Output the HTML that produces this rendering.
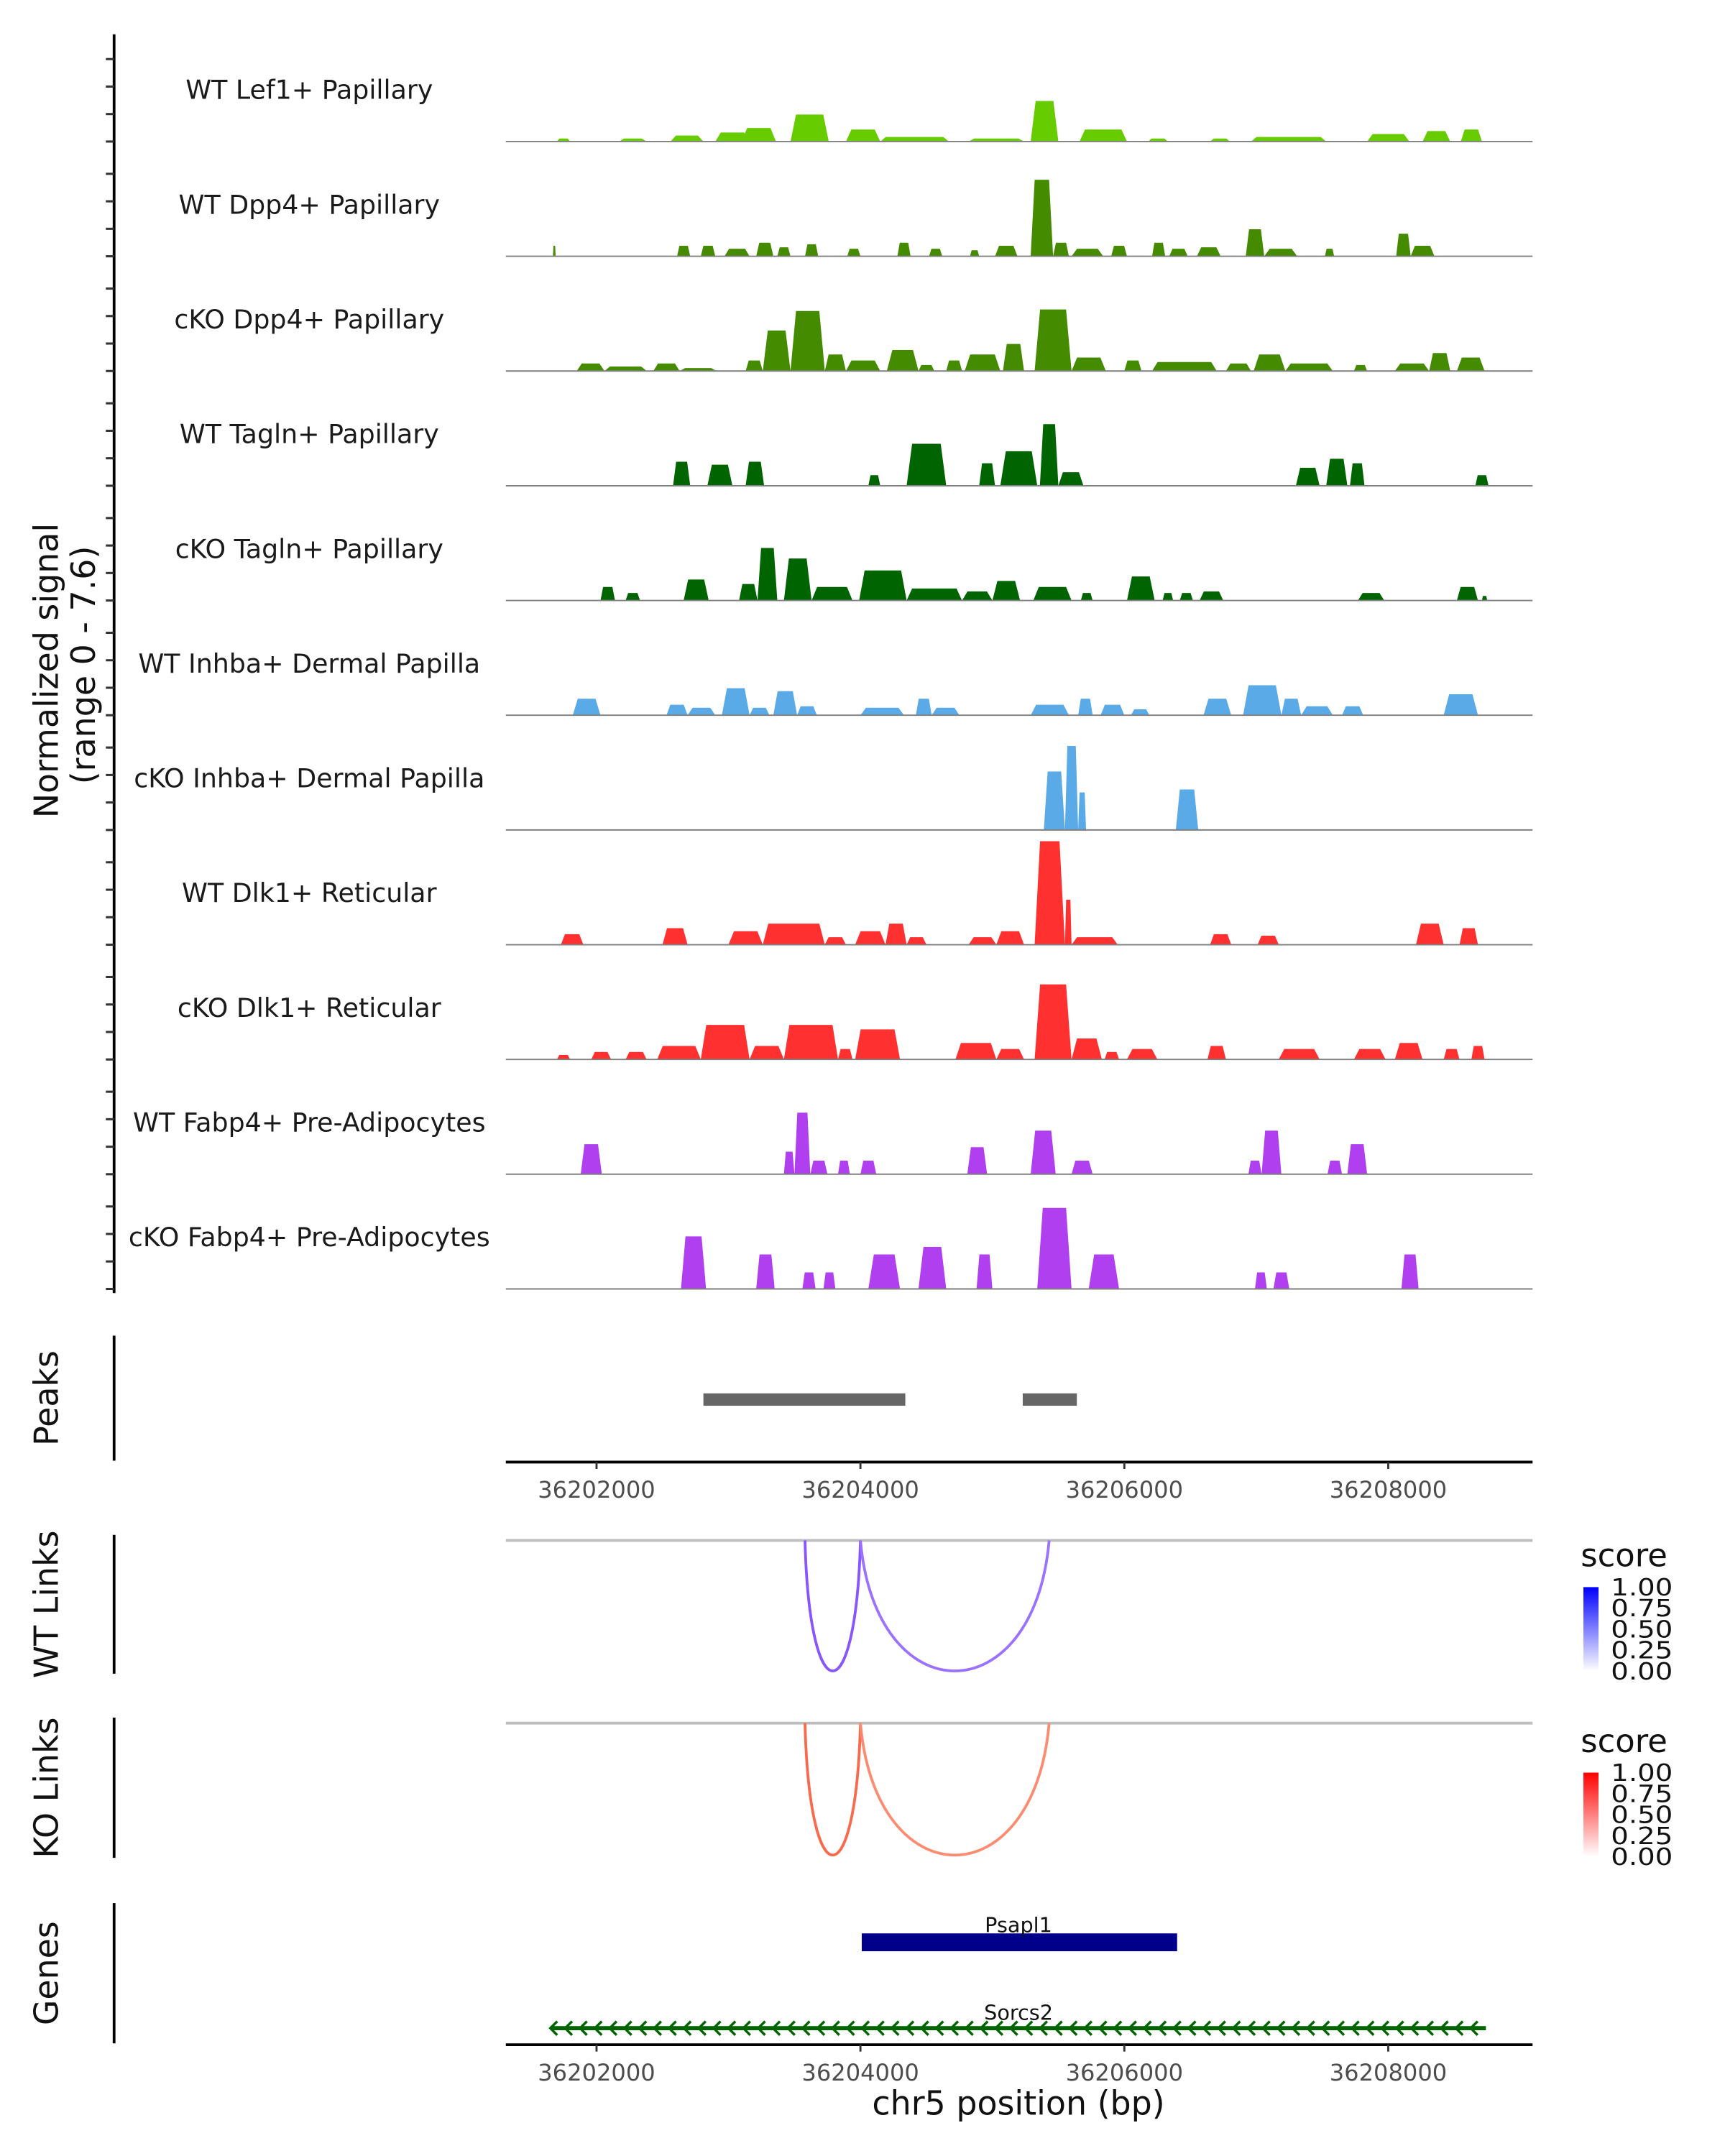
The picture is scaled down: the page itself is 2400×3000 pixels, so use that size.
<!DOCTYPE html>
<html><head><meta charset="utf-8"><style>
html,body{margin:0;padding:0;background:#fff;}
svg{display:block;font-family:"DejaVu Sans","Liberation Sans",sans-serif;}
</style></head><body>
<svg id="chart" width="2400" height="3000" viewBox="0 0 1255 1569" preserveAspectRatio="none" xmlns="http://www.w3.org/2000/svg">
<rect width="1255" height="1569" fill="#fff"/>
<g id="tracks"></g>
<g id="yaxis"></g>
<text transform="translate(42,488) rotate(-90)" text-anchor="middle" font-size="24" fill="#111">Normalized signal</text>
<text transform="translate(69,484) rotate(-90)" text-anchor="middle" font-size="24" fill="#111">(range 0 - 7.6)</text>
<g id="peaks"></g>
<g id="links"></g>
<g id="genes"></g>
</svg>
<script>
// positions in kb offset from chr5:36,200,000 ; heights in normalized signal
const trackNames = ["WT Lef1+ Papillary","WT Dpp4+ Papillary","cKO Dpp4+ Papillary","WT Tagln+ Papillary","cKO Tagln+ Papillary","WT Inhba+ Dermal Papilla","cKO Inhba+ Dermal Papilla","WT Dlk1+ Reticular","cKO Dlk1+ Reticular","WT Fabp4+ Pre-Adipocytes","cKO Fabp4+ Pre-Adipocytes"];
const trackColors = ["#66cc00","#458b00","#458b00","#006400","#006400","#5aaae8","#5aaae8","#ff3030","#ff3030","#b03ff0","#b03ff0"];
const lef1WT = [[1.70,1.80,0.2],[2.17,2.38,0.2],[2.56,2.81,0.4],[2.90,3.16,0.6],[3.10,3.36,0.9],[3.47,3.76,1.8],[3.89,4.15,0.8],[4.15,4.67,0.3],[4.82,5.24,0.2],[5.29,5.50,2.7],[5.66,6.02,0.8],[6.18,6.33,0.2],[6.65,6.80,0.2],[6.96,7.53,0.3],[7.84,8.16,0.5],[8.26,8.47,0.7],[8.55,8.71,0.8]];
const dpp4WT = [[1.67,1.69,0.7],[2.61,2.71,0.7],[2.79,2.90,0.7],[2.97,3.16,0.5],[3.21,3.34,0.9],[3.37,3.47,0.6],[3.58,3.68,0.8],[3.90,4.00,0.5],[4.28,4.38,0.9],[4.52,4.62,0.5],[4.83,4.90,0.4],[5.02,5.19,0.7],[5.29,5.46,5.1],[5.46,5.58,0.9],[5.60,5.84,0.5],[5.90,6.02,0.7],[6.21,6.31,0.9],[6.34,6.48,0.5],[6.55,6.73,0.6],[6.92,7.06,1.8],[7.06,7.31,0.5],[7.52,7.59,0.5],[8.06,8.17,1.5],[8.17,8.35,0.7]];
const dpp4KO = [[1.85,2.06,0.5],[2.06,2.38,0.3],[2.43,2.63,0.5],[2.63,2.91,0.2],[3.13,3.26,0.7],[3.26,3.47,2.7],[3.47,3.73,4.0],[3.73,3.89,1.1],[3.89,4.15,0.7],[4.2,4.44,1.4],[4.44,4.56,0.4],[4.65,4.77,0.7],[4.79,5.06,1.1],[5.08,5.24,1.8],[5.32,5.6,4.1],[5.6,5.86,0.9],[6.0,6.13,0.7],[6.21,6.7,0.6],[6.77,6.96,0.5],[6.98,7.22,1.1],[7.22,7.58,0.5],[7.74,7.84,0.4],[8.05,8.31,0.5],[8.31,8.47,1.2],[8.52,8.73,0.9]];
const taglnWT = [[2.58,2.71,1.6],[2.84,3.03,1.4],[3.13,3.27,1.6],[4.06,4.15,0.7],[4.35,4.65,2.8],[4.9,5.02,1.5],[5.06,5.34,2.3],[5.36,5.5,4.1],[5.5,5.69,0.9],[7.3,7.48,1.2],[7.53,7.69,1.8],[7.71,7.82,1.5],[8.66,8.76,0.7]];
const taglnKO = [[2.03,2.14,0.9],[2.22,2.33,0.5],[2.66,2.85,1.4],[3.08,3.22,1.1],[3.22,3.37,3.5],[3.42,3.63,2.8],[3.63,3.94,0.9],[3.99,4.35,2.0],[4.35,4.77,0.8],[4.77,5.0,0.6],[5.0,5.21,1.3],[5.31,5.6,0.9],[5.67,5.76,0.5],[6.02,6.23,1.6],[6.29,6.37,0.5],[6.42,6.52,0.5],[6.57,6.75,0.6],[7.77,7.97,0.5],[8.52,8.68,0.9],[8.71,8.75,0.3]];
const inhbaWT = [[1.82,2.03,1.1],[2.53,2.69,0.7],[2.69,2.9,0.5],[2.95,3.16,1.8],[3.16,3.31,0.5],[3.34,3.52,1.6],[3.52,3.67,0.6],[4.0,4.33,0.5],[4.42,4.54,1.1],[4.54,4.75,0.5],[5.29,5.58,0.7],[5.65,5.76,1.1],[5.82,6.0,0.7],[6.05,6.19,0.4],[6.6,6.81,1.1],[6.9,7.19,2.0],[7.19,7.34,1.1],[7.34,7.58,0.6],[7.65,7.81,0.6],[8.42,8.68,1.4]];
const inhbaKO = [[5.39,5.55,3.9],[5.55,5.65,5.6],[5.65,5.71,2.5],[6.39,6.56,2.7]];
const dlk1WT = [[1.73,1.9,0.7],[2.5,2.69,1.1],[3.0,3.26,0.9],[3.26,3.73,1.4],[3.73,3.89,0.5],[3.96,4.19,0.9],[4.19,4.35,1.4],[4.35,4.5,0.5],[4.82,5.03,0.5],[5.03,5.24,0.9],[5.32,5.55,6.9],[5.55,5.6,3.0],[5.6,5.95,0.5],[6.65,6.81,0.7],[7.01,7.17,0.6],[8.21,8.42,1.4],[8.54,8.68,1.1]];
const dlk1KO = [[1.7,1.8,0.3],[1.96,2.11,0.5],[2.22,2.38,0.5],[2.46,2.79,0.9],[2.79,3.16,2.3],[3.16,3.42,0.9],[3.42,3.83,2.3],[3.83,3.94,0.7],[3.96,4.3,2.0],[4.72,5.03,1.1],[5.03,5.24,0.7],[5.32,5.6,5.0],[5.6,5.83,1.4],[5.85,5.96,0.5],[6.02,6.25,0.7],[6.63,6.77,0.9],[7.17,7.48,0.7],[7.74,7.98,0.7],[8.05,8.26,1.1],[8.42,8.54,0.7],[8.63,8.73,0.9]];
const fabp4WT = [[1.88,2.04,2.0],[3.42,3.5,1.5],[3.5,3.62,4.1],[3.62,3.75,0.9],[3.83,3.92,0.9],[4.0,4.12,0.9],[4.81,4.96,1.8],[5.29,5.48,2.9],[5.6,5.76,0.9],[6.94,7.04,0.9],[7.04,7.19,2.9],[7.54,7.65,0.9],[7.69,7.84,2.0]];
const fabp4KO = [[2.64,2.83,3.5],[3.21,3.35,2.3],[3.56,3.66,1.1],[3.72,3.81,1.1],[4.06,4.3,2.3],[4.44,4.65,2.8],[4.88,5.0,2.3],[5.34,5.6,5.4],[5.73,5.96,2.3],[6.99,7.08,1.1],[7.13,7.25,1.1],[8.1,8.23,2.3]];
const trackData = [lef1WT,dpp4WT,dpp4KO,taglnWT,taglnKO,inhbaWT,inhbaKO,dlk1WT,dlk1KO,fabp4WT,fabp4KO];
const peakRegions = [[2.81,4.34],[5.23,5.64]];
const wtLinks = [[3.58,4.0,0.6],[4.0,5.43,0.45]];
const koLinks = [[3.58,4.0,0.6],[4.0,5.43,0.45]];
const xTicks = [2,4,6,8];
const xTickLabels = ["36202000","36204000","36206000","36208000"];
const legendTicks = ["1.00","0.75","0.50","0.25","0.00"];
const psapl1 = [4.01,6.40];
const sorcs2 = [1.65,8.74];

const NS="http://www.w3.org/2000/svg";
function mk(tag, attrs, parent){const e=document.createElementNS(NS,tag);for(const k in attrs)e.setAttribute(k,attrs[k]);parent.appendChild(e);return e;}
const X0=368, X1=1115;
function xs(kb){return 434+(kb-2)*96;}
const maxSig=7.6, trackH=83;
function ys(v,base){return base-v/maxSig*trackH;}

const tg=document.getElementById('tracks');
const ya=document.getElementById('yaxis');
mk('line',{x1:83,x2:83,y1:25,y2:941,stroke:'#000','stroke-width':2},ya);
trackData.forEach((blocks,i)=>{
  const base=103+i*83.5;
  const g=mk('g',{},tg);
  
  
  const lbl=mk('text',{x:225,y:base-31,'text-anchor':'middle','font-size':19,fill:'#1a1a1a'},g);
  lbl.textContent=trackNames[i];
  
  
  blocks.forEach(b=>{
    const a=xs(b[0]), c=xs(b[1]); const w=c-a; const r=Math.min(w*0.18,4);
    const y=ys(b[2],base);
    const p=mk('path',{d:`M${a},${base}L${a+r},${y}L${c-r},${y}L${c},${base}Z`,fill:trackColors[i]},g);
    
    
  });
  const bl=mk('line',{x1:X0,x2:X1,y1:base,y2:base,stroke:'#7f7f7f','stroke-width':1},g);
  
  
  for(let k=0;k<4;k++){const y=base-k*20;mk('line',{x1:77,x2:83,y1:y,y2:y,stroke:'#333','stroke-width':1.6},ya);}
});

function sideAxis(parent,y1,y2,label){
  mk('line',{x1:83,x2:83,y1:y1,y2:y2,stroke:'#000','stroke-width':2},parent);
  const t=mk('text',{transform:`translate(42,${(y1+y2)/2}) rotate(-90)`,'text-anchor':'middle','font-size':24,fill:'#111'},parent);
  t.textContent=label;
  
  
}
function xAxis(parent,y){
  mk('line',{x1:X0,x2:X1,y1:y,y2:y,stroke:'#000','stroke-width':2},parent);
  xTicks.forEach((v,i)=>{
    mk('line',{x1:xs(v),x2:xs(v),y1:y,y2:y+5,stroke:'#333','stroke-width':1.5},parent);
    const t=mk('text',{x:xs(v),y:y+26,'text-anchor':'middle','font-size':16.8,fill:'#4d4d4d'},parent);
    t.textContent=xTickLabels[i];
    
    
  });
}
const pg=document.getElementById('peaks');
sideAxis(pg,972,1063,'Peaks');
peakRegions.forEach(p=>{
  const r=mk('rect',{x:xs(p[0]),y:1014,width:xs(p[1])-xs(p[0]),height:9,fill:'#666'},pg);
  
  
});
xAxis(pg,1064);

const lg=document.getElementById('links');
const defs=mk('defs',{},lg);
function grad(id,c){const g=mk('linearGradient',{id:id,x1:0,y1:1,x2:0,y2:0},defs);mk('stop',{offset:0,'stop-color':'#fff'},g);mk('stop',{offset:1,'stop-color':c},g);}
grad('gb','#0000ff');grad('gr','#ff0000');
function linksTrack(top,bottom,label,links,cols,gradId,legY){
  sideAxis(lg,top-4,bottom+2,label);
  mk('line',{x1:X0,x2:X1,y1:top,y2:top,stroke:'#bebebe','stroke-width':2},lg);
  links.forEach((l,i)=>{
    const a=xs(l[0]),c=xs(l[1]);const d=(bottom-top)*4/3;
    const p=mk('path',{d:`M${a},${top}C${a+(c-a)*0.08},${top+d} ${c-(c-a)*0.08},${top+d} ${c},${top}`,fill:'none',stroke:cols[i],'stroke-width':2},lg);
    
    
  });
  const s=mk('text',{x:1150,y:legY,'font-size':23.5,fill:'#111'},lg);
  s.textContent='score';
  
  
  mk('rect',{x:1152,y:legY+15,width:11,height:61,fill:`url(#${gradId})`},lg);
  legendTicks.forEach((t,i)=>{
    const tt=mk('text',{x:1172,y:legY+21+i*15.3,'font-size':17,textLength:45,lengthAdjust:'spacingAndGlyphs',fill:'#111'},lg);
    tt.textContent=t;
    
    
  });
}
linksTrack(1121,1216,'WT Links',wtLinks,['#8855ff','#9b72ff'],'gb',1140);
linksTrack(1254,1350,'KO Links',koLinks,['#f86a4c','#fb8c72'],'gr',1275);

const gg=document.getElementById('genes');
sideAxis(gg,1385,1487,'Genes');
const pr=mk('rect',{x:xs(psapl1[0]),y:1407,width:xs(psapl1[1])-xs(psapl1[0]),height:13,fill:'#00008b'},gg);


const pt=mk('text',{x:741,y:1406,'text-anchor':'middle','font-size':15,fill:'#111'},gg);
pt.textContent='Psapl1';


mk('line',{x1:xs(sorcs2[0]),x2:xs(sorcs2[1]),y1:1476,y2:1476,stroke:'#006400','stroke-width':3},gg);
for(let x=xs(sorcs2[0]);x<xs(sorcs2[1])-4;x+=10.8){
  mk('path',{d:`M${x+5},${1471}L${x},${1476}L${x+5},${1481}`,fill:'none',stroke:'#006400','stroke-width':1.8},gg);
}
const st=mk('text',{x:741,y:1470,'text-anchor':'middle','font-size':15,fill:'#111'},gg);
st.textContent='Sorcs2';


xAxis(gg,1488);
const xt=mk('text',{x:741,y:1539,'text-anchor':'middle','font-size':24,fill:'#111'},gg);
xt.textContent='chr5 position (bp)';


</script>
</body></html>
